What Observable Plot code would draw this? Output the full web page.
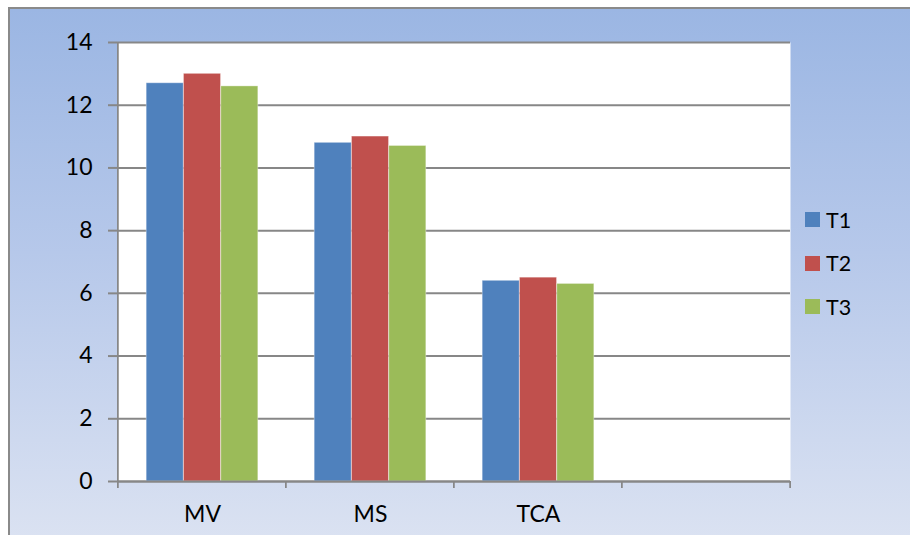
<!DOCTYPE html>
<html>
<head>
<meta charset="utf-8">
<script src="https://cdn.jsdelivr.net/npm/d3@7"></script>
<script src="https://cdn.jsdelivr.net/npm/@observablehq/plot@0.6"></script>
<style>
  body { margin: 0; background: #fff; }
  #wrap { position: relative; width: 910px; height: 535px; overflow: hidden; background: #fff; font-family: Lato, "Open Sans", sans-serif; }
  #bg { position: absolute; left: 8px; top: 7px; width: 920px; height: 545px; box-sizing: border-box;
        border: 2px solid #8a8a8a; background: linear-gradient(to bottom, #9bb6e3 0%, #b6c8ea 45%, #dce3f2 100%); }
  #chart { position: absolute; left: 0; top: 0; }
  #legend { position: absolute; left: 805px; top: 198px; }
  .item { display: flex; align-items: center; height: 43.5px; font-size: 21.5px; color: #000; }
  .sw { width: 15px; height: 15px; margin-right: 6px; }
</style>
</head>
<body>
<div id="wrap">
  <div id="bg"></div>
  <div id="chart"></div>
  <div id="legend"></div>
</div>
<script>
// ---- data ----
const categories = ["MV", "MS", "TCA", ""];
const series = ["T1", "T2", "T3"];
const T1 = [12.7, 10.8, 6.4];
const T2 = [13.0, 11.0, 6.5];
const T3 = [12.6, 10.7, 6.3];
const yTicks = [0, 2, 4, 6, 8, 10, 12, 14];
const colors = ["#4f81bd", "#c0504d", "#9bbb59"];

const seriesValues = {T1, T2, T3};
const rows = [];
for (const s of series) {
  seriesValues[s].forEach((v, i) => rows.push({category: categories[i], series: s, value: v}));
}

// ---- layout ----
const W = 910, H = 535;
const ml = 117, mr = 120, mt = 42, mb = 54;
const bw = (W - ml - mr) / categories.length;   // band width
const barW = 37.3;
const inset = (bw - barW) / 2;
const grid = "#878787";

const barMarks = series.map((s, k) =>
  Plot.barY(rows.filter(d => d.series === s), {
    x: "category", y: "value", fill: "series",
    insetLeft: inset, insetRight: inset, dx: (k - 1) * barW,
    stroke: "white", strokeOpacity: 0.35, strokeWidth: 1
  })
);

const chart = Plot.plot({
  width: W, height: H,
  marginLeft: ml, marginRight: mr, marginTop: mt, marginBottom: mb,
  style: {background: "transparent", fontFamily: "Lato, 'Open Sans', sans-serif", fontSize: "23px", color: "#000", overflow: "visible"},
  x: {type: "band", domain: categories, paddingInner: 0, paddingOuter: 0},
  y: {domain: [0, 14]},
  color: {domain: series, range: colors},
  marks: [
    Plot.frame({fill: "white", stroke: "none"}),
    Plot.ruleY(yTicks, {stroke: grid, strokeWidth: 2}),
    ...barMarks,
    Plot.ruleY([0], {stroke: grid, strokeWidth: 2}),
    // left axis line
    Plot.barY([categories[0]], {x: d => d, y1: 0, y2: 14, insetLeft: -1, insetRight: bw - 1, fill: grid}),
    // category boundary ticks
    Plot.barY(categories, {x: d => d, y1: 0, y2: 0, insetBottom: -7, insetLeft: -1, insetRight: bw - 1, fill: grid}),
    Plot.barY([categories[categories.length - 1]], {x: d => d, y1: 0, y2: 0, insetBottom: -7, insetLeft: bw - 1, insetRight: -1, fill: grid}),
    Plot.axisY(yTicks, {tickSize: 9, tickPadding: 16, stroke: grid, strokeWidth: 2, label: null}),
    Plot.axisX({tickSize: 0, tickPadding: 24, label: null})
  ]
});
document.getElementById("chart").appendChild(chart);

// legend
const lg = document.getElementById("legend");
series.forEach((s, i) => {
  const it = document.createElement("div");
  it.className = "item";
  it.innerHTML = `<span class="sw" style="background:${colors[i]}"></span><span>${s}</span>`;
  lg.appendChild(it);
});
</script>
</body>
</html>
